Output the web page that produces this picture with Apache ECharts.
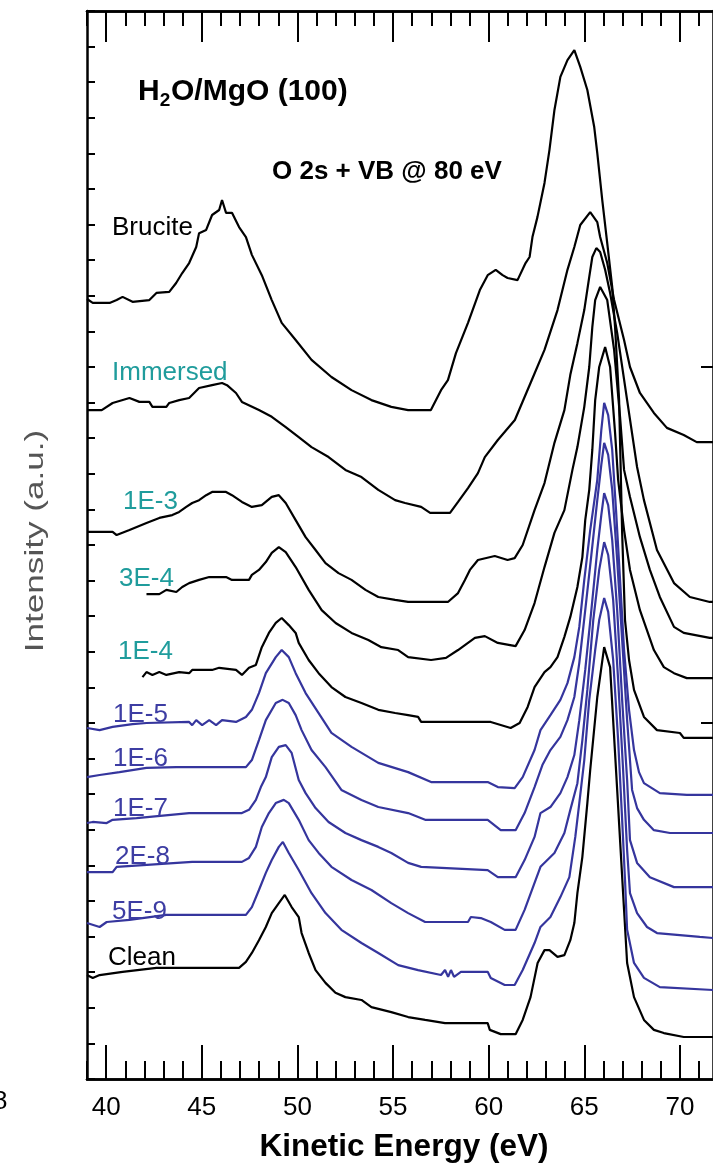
<!DOCTYPE html>
<html>
<head>
<meta charset="utf-8">
<script src="https://cdn.jsdelivr.net/npm/echarts@6/dist/echarts.min.js"></script>
<style>
  html, body { margin: 0; padding: 0; background: #ffffff; }
  #chart { width: 713px; height: 1167px; }
</style>
</head>
<body>
<div id="chart"></div>
<script>
// Kinetic energy ticks (eV)
const majorTicks = [40, 45, 50, 55, 60, 65, 70];
const minorTicks = [39, 40, 41, 42, 43, 44, 45, 46, 47, 48, 49, 50, 51, 52, 53, 54, 55,
  56, 57, 58, 59, 60, 61, 62, 63, 64, 65, 66, 67, 68, 69, 70, 71];
const rightTicks = [10, 20];

// O 2s + valence band spectra, [kinetic energy (eV), offset intensity (a.u.)]
const brucite = [[39.0,21.91],[39.30,21.80],[40.18,21.80],[40.55,21.88],[40.86,21.97],[41.38,21.83],[42.26,21.88],[42.63,22.08],[43.30,22.11],[43.66,22.36],[43.98,22.64],[44.34,22.92],[44.71,23.37],[44.86,23.76],[45.23,23.85],[45.54,24.27],[45.91,24.41],[46.06,24.69],[46.27,24.33],[46.58,24.33],[46.95,23.93],[47.31,23.65],[47.62,23.15],[48.14,22.58],[48.66,21.88],[49.18,21.24],[49.91,20.76],[50.74,20.20],[51.78,19.72],[52.83,19.35],[53.87,19.07],[54.91,18.88],[55.79,18.79],[56.98,18.79],[57.51,19.35],[57.87,19.63],[58.29,20.39],[58.92,21.24],[59.54,22.16],[59.95,22.58],[60.37,22.73],[60.73,22.58],[60.99,22.50],[61.51,22.44],[61.93,22.92],[62.14,23.09],[62.29,23.65],[62.55,24.21],[62.92,25.17],[63.18,26.10],[63.44,27.22],[63.75,28.15],[64.12,28.62],[64.48,28.90],[64.79,28.43],[65.16,27.78],[65.52,26.74],[65.68,26.01],[65.94,24.69],[66.20,23.48],[66.46,22.25],[66.61,21.12],[66.82,19.07],[66.98,15.34],[67.13,12.89],[67.34,11.77],[67.60,10.93],[68.12,10.17],[68.80,9.80],[70.00,9.72],[70.20,9.58],[71.73,9.58]];

const immersed = [[39.0,18.79],[39.77,18.79],[40.34,18.99],[41.22,19.13],[41.74,19.02],[42.26,19.02],[42.42,18.88],[43.15,18.88],[43.30,18.99],[43.82,19.07],[44.34,19.13],[44.86,19.41],[45.54,19.49],[46.06,19.55],[46.32,19.49],[46.79,19.27],[47.10,19.02],[47.99,18.79],[48.66,18.60],[49.39,18.31],[50.07,18.03],[50.74,17.75],[51.63,17.47],[52.51,17.11],[53.35,16.91],[54.23,16.55],[55.11,16.26],[55.63,16.18],[56.47,16.07],[56.94,15.90],[57.98,15.90],[58.40,16.21],[58.92,16.60],[59.44,17.02],[59.80,17.47],[60.48,17.95],[61.37,18.51],[62.19,19.55],[62.92,20.48],[63.60,21.60],[64.12,22.73],[64.48,23.37],[64.79,23.99],[65.31,24.35],[65.68,24.07],[65.83,23.65],[66.20,22.92],[66.56,21.88],[67.08,20.76],[67.39,20.00],[67.91,19.27],[68.64,18.71],[69.32,18.29],[70.20,18.09],[70.88,17.89],[71.73,17.89]];

const exp1e3 = [[39.0,15.37],[40.34,15.37],[40.55,15.28],[41.22,15.42],[42.11,15.62],[42.78,15.76],[43.46,15.84],[43.82,15.93],[44.19,16.07],[44.50,16.18],[44.86,16.26],[45.23,16.40],[45.54,16.49],[46.27,16.49],[46.58,16.40],[47.10,16.21],[47.62,16.07],[48.14,16.12],[48.66,16.35],[49.03,16.40],[49.39,16.18],[49.91,15.70],[50.43,15.22],[50.95,14.86],[51.47,14.49],[52.15,14.21],[52.83,14.02],[53.56,13.74],[54.23,13.54],[55.11,13.46],[55.79,13.40],[57.87,13.40],[58.40,13.65],[58.76,14.02],[59.02,14.30],[59.44,14.58],[60.32,14.69],[60.99,14.58],[61.36,14.63],[61.78,15.00],[62.40,15.98],[62.92,16.74],[63.44,17.87],[63.96,18.79],[64.27,19.78],[64.64,20.67],[65.00,21.60],[65.26,22.53],[65.42,23.09],[65.63,23.34],[65.83,23.23],[66.09,22.73],[66.35,22.08],[66.72,20.96],[67.24,19.07],[67.76,17.19],[68.12,16.26],[68.80,14.86],[69.69,13.93],[70.52,13.54],[71.56,13.40],[71.73,13.40]];

const exp3e4 = [[42.11,13.62],[42.78,13.62],[43.15,13.74],[43.67,13.68],[43.98,13.82],[44.34,13.93],[44.86,14.02],[45.39,14.10],[46.27,14.10],[46.58,14.02],[47.47,14.02],[47.62,14.16],[47.99,14.30],[48.35,14.52],[48.66,14.78],[49.03,14.94],[49.39,14.80],[49.91,14.38],[50.59,13.74],[51.27,13.17],[52.00,12.81],[52.83,12.53],[53.71,12.33],[54.39,12.13],[55.27,12.05],[55.79,11.85],[56.99,11.77],[57.77,11.83],[58.40,12.05],[59.28,12.39],[59.80,12.44],[60.48,12.25],[61.41,12.16],[61.88,12.61],[62.40,13.37],[62.92,14.38],[63.44,15.34],[63.96,15.98],[64.38,17.11],[64.64,17.75],[65.00,18.88],[65.26,20.00],[65.42,21.12],[65.57,21.88],[65.83,22.25],[66.20,21.88],[66.56,20.48],[66.87,18.60],[67.08,17.11],[67.39,16.35],[67.91,15.22],[68.43,14.30],[68.95,13.54],[69.69,12.70],[70.20,12.53],[71.56,12.39],[71.73,12.39]];

const exp1e4 = [[41.90,11.29],[42.11,11.43],[42.42,11.35],[42.78,11.43],[43.15,11.35],[43.82,11.43],[44.34,11.40],[44.50,11.49],[45.54,11.49],[45.91,11.55],[46.79,11.49],[47.10,11.35],[47.47,11.55],[47.83,11.63],[48.14,12.13],[48.51,12.53],[48.87,12.81],[49.18,12.95],[49.55,12.75],[49.91,12.53],[50.07,12.25],[50.59,11.77],[51.11,11.40],[51.78,11.01],[52.51,10.73],[53.35,10.56],[54.23,10.37],[55.11,10.28],[55.79,10.22],[56.31,10.17],[56.47,10.03],[60.11,10.03],[61.15,9.86],[61.62,10.00],[62.04,10.45],[62.40,11.01],[62.92,11.43],[63.23,11.57],[63.60,11.85],[63.96,12.42],[64.27,12.98],[64.64,13.82],[64.90,14.66],[65.05,15.70],[65.26,16.55],[65.42,17.67],[65.57,19.07],[65.78,20.00],[66.09,20.56],[66.35,20.00],[66.61,18.15],[66.77,16.83],[67.08,15.42],[67.39,14.30],[67.91,13.17],[68.64,12.05],[69.16,11.57],[69.69,11.40],[70.36,11.26],[71.73,11.26]];

const exp1e5 = [[39.0,9.86],[39.66,9.80],[40.34,9.89],[41.38,9.97],[42.11,10.00],[44.34,10.03],[44.50,9.94],[44.71,10.08],[45.02,9.94],[45.39,10.08],[45.75,9.94],[46.06,10.08],[46.79,10.03],[47.31,10.17],[47.62,10.37],[47.99,10.84],[48.35,11.40],[48.87,11.85],[49.18,12.05],[49.55,11.85],[49.91,11.40],[50.43,10.84],[51.11,10.28],[51.78,9.72],[52.83,9.33],[54.23,8.88],[55.79,8.62],[56.99,8.34],[59.95,8.34],[60.48,8.20],[61.36,8.17],[61.78,8.48],[62.40,9.24],[62.71,9.80],[63.23,10.22],[63.75,10.65],[64.12,11.12],[64.48,11.85],[64.74,12.70],[65.00,14.02],[65.31,15.42],[65.68,16.83],[65.89,18.23],[66.04,18.99],[66.25,18.65],[66.46,17.67],[66.66,15.98],[66.87,14.02],[67.08,12.05],[67.34,10.37],[67.60,9.24],[67.86,8.62],[68.12,8.31],[68.95,8.03],[70.36,7.98],[71.73,7.98]];

const exp1e6 = [[39.0,8.48],[39.66,8.54],[40.70,8.62],[42.11,8.74],[43.67,8.76],[47.31,8.76],[47.62,8.96],[47.99,9.52],[48.35,10.08],[48.87,10.56],[49.23,10.65],[49.55,10.56],[49.91,10.22],[50.22,9.80],[50.74,9.24],[51.47,8.76],[52.30,8.12],[53.35,7.84],[54.23,7.64],[55.79,7.47],[56.68,7.28],[59.95,7.28],[60.63,6.99],[61.41,6.99],[61.88,7.47],[62.40,8.20],[62.81,8.82],[63.23,9.24],[63.75,9.61],[64.12,10.08],[64.48,10.73],[64.74,11.69],[65.05,13.17],[65.37,14.72],[65.68,16.26],[65.89,17.25],[66.04,17.87],[66.25,17.53],[66.46,16.55],[66.72,14.58],[66.98,12.33],[67.24,10.08],[67.50,8.12],[67.76,7.61],[68.12,7.28],[68.64,6.99],[69.48,6.91],[71.73,6.91]];

const exp1e7 = [[39.0,7.19],[39.30,7.22],[40.03,7.19],[40.34,7.28],[41.59,7.33],[44.34,7.47],[47.10,7.47],[47.47,7.56],[47.83,7.84],[48.09,8.20],[48.35,8.48],[48.66,9.04],[49.03,9.33],[49.39,9.38],[49.70,9.16],[50.07,8.40],[50.43,8.03],[50.95,7.61],[51.63,7.22],[52.51,6.91],[53.35,6.71],[54.23,6.52],[54.91,6.35],[55.79,6.07],[56.47,5.96],[59.95,5.87],[60.48,5.67],[61.41,5.67],[61.88,6.15],[62.40,6.80],[62.71,7.47],[63.23,7.64],[63.75,8.03],[64.12,8.48],[64.48,9.10],[64.74,10.08],[65.05,11.49],[65.37,13.17],[65.68,14.86],[65.89,15.84],[66.04,16.46],[66.25,16.12],[66.46,15.14],[66.72,13.17],[66.98,10.65],[67.24,8.40],[67.39,6.71],[67.76,6.07],[68.43,5.67],[69.69,5.39],[71.73,5.39]];

const exp2e8 = [[39.0,5.81],[40.34,5.81],[40.55,5.96],[44.50,6.10],[47.10,6.10],[47.47,6.21],[47.83,6.52],[48.14,7.08],[48.51,7.47],[48.87,7.75],[49.29,7.84],[49.55,7.75],[50.07,7.28],[50.59,6.71],[51.11,6.35],[51.78,5.96],[52.83,5.59],[53.87,5.31],[54.91,4.94],[55.79,4.66],[56.68,4.41],[58.92,4.41],[59.07,4.55],[59.59,4.52],[60.11,4.41],[60.84,4.19],[61.41,4.19],[61.88,4.75],[62.40,5.51],[62.71,5.96],[63.44,6.35],[63.96,6.91],[64.27,7.56],[64.64,8.31],[64.90,9.52],[65.16,10.93],[65.47,12.89],[65.78,14.30],[66.04,15.08],[66.25,14.72],[66.51,13.46],[66.77,11.21],[67.03,8.68],[67.24,6.43],[67.39,5.22],[67.76,4.66],[68.28,4.27],[68.80,4.10],[71.04,3.99],[71.73,3.96]];

const exp5e9 = [[39.0,4.38],[39.66,4.27],[40.03,4.41],[41.22,4.47],[43.15,4.61],[47.31,4.61],[47.62,4.83],[47.99,5.31],[48.35,5.79],[48.66,6.15],[49.03,6.52],[49.24,6.66],[49.55,6.35],[50.07,5.87],[50.74,5.22],[51.47,4.66],[52.30,4.19],[53.35,3.82],[54.23,3.54],[55.27,3.20],[56.31,3.06],[57.51,2.92],[57.72,3.06],[57.88,2.87],[58.03,3.06],[58.19,2.87],[58.55,3.01],[59.95,3.01],[60.11,2.84],[60.84,2.64],[61.36,2.64],[61.78,3.06],[62.40,3.82],[62.71,4.27],[63.23,4.55],[63.75,5.11],[64.22,5.67],[64.53,6.80],[64.74,7.75],[65.00,8.96],[65.26,10.65],[65.57,12.05],[65.78,12.89],[66.04,13.51],[66.25,13.12],[66.51,11.77],[66.77,9.52],[66.98,7.28],[67.13,5.59],[67.24,4.19],[67.60,3.26],[68.12,2.84],[68.95,2.58],[71.73,2.50]];

const clean = [[39.0,2.92],[39.30,2.84],[39.66,2.92],[40.86,3.01],[42.63,3.12],[46.95,3.12],[47.31,3.29],[47.62,3.54],[47.99,3.90],[48.35,4.27],[48.66,4.66],[49.03,4.94],[49.34,5.17],[49.70,4.83],[50.07,4.55],[50.22,4.10],[50.59,3.54],[50.95,3.06],[51.47,2.70],[51.99,2.42],[52.51,2.30],[53.35,2.22],[53.87,2.02],[54.91,1.88],[55.79,1.74],[56.68,1.66],[57.72,1.57],[59.95,1.57],[60.06,1.38],[60.63,1.26],[61.41,1.26],[61.78,1.66],[62.19,2.30],[62.56,3.26],[62.92,3.62],[63.18,3.62],[63.60,3.43],[63.96,3.48],[64.27,3.90],[64.48,4.38],[64.64,5.22],[64.90,6.24],[65.16,7.75],[65.31,8.68],[65.68,10.73],[66.04,12.13],[66.35,11.57],[66.72,8.12],[67.08,4.75],[67.24,3.26],[67.60,2.30],[68.12,1.66],[68.64,1.38],[69.16,1.29],[70.20,1.18],[71.73,1.18]];

const BLACK = '#000000';
const BLUE = '#35359d';
const TEAL = '#1f9c9c';
const LABEL_BLUE = '#3d3da3';
const FONT = '"Liberation Sans", Arial, Helvetica, sans-serif';

// exposure series, drawn black first and blue on top
const spectra = [
  { name: 'Brucite', data: brucite, color: BLACK },
  { name: 'Immersed', data: immersed, color: BLACK },
  { name: '1E-3', data: exp1e3, color: BLACK },
  { name: '3E-4', data: exp3e4, color: BLACK },
  { name: '1E-4', data: exp1e4, color: BLACK },
  { name: 'Clean', data: clean, color: BLACK },
  { name: '5E-9', data: exp5e9, color: BLUE },
  { name: '2E-8', data: exp2e8, color: BLUE },
  { name: '1E-7', data: exp1e7, color: BLUE },
  { name: '1E-6', data: exp1e6, color: BLUE },
  { name: '1E-5', data: exp1e5, color: BLUE }
];

// curve captions: text, colour, left x, middle y (px)
const captions = [
  ['Brucite', BLACK, 112, 228],
  ['Immersed', TEAL, 112, 373],
  ['1E-3', TEAL, 123, 502],
  ['3E-4', TEAL, 119, 579],
  ['1E-4', TEAL, 118, 652],
  ['1E-5', LABEL_BLUE, 113, 715],
  ['1E-6', LABEL_BLUE, 113, 759],
  ['1E-7', LABEL_BLUE, 113, 809],
  ['2E-8', LABEL_BLUE, 115, 857],
  ['5E-9', LABEL_BLUE, 112, 912],
  ['Clean', BLACK, 108, 958]
];

const X_MIN = 39;
const X_MAX = 71.73;

function energyAxis(position, ticks, len, withLabels) {
  return {
    type: 'value', position: position, min: X_MIN, max: X_MAX,
    axisLine: { show: true, onZero: false, lineStyle: { color: BLACK, width: 2.5 } },
    axisTick: { show: true, inside: true, length: len, customValues: ticks,
      lineStyle: { color: BLACK, width: 2 } },
    axisLabel: withLabels
      ? { show: true, customValues: majorTicks, fontSize: 26, color: BLACK,
          fontFamily: FONT, margin: 16 }
      : { show: false },
    splitLine: { show: false }
  };
}

const chart = echarts.init(document.getElementById('chart'), null, { renderer: 'canvas' });

const graphics = captions.map(function (c) {
  return {
    type: 'text', x: c[2], y: c[3], z: 100,
    style: { text: c[0], fill: c[1], font: 'normal 26px ' + FONT,
      align: 'left', verticalAlign: 'middle' }
  };
});
graphics.push(
  { type: 'text', x: 138, y: 92, z: 100,
    style: { text: 'H', fill: BLACK, font: 'bold 30px ' + FONT, align: 'left', verticalAlign: 'middle' } },
  { type: 'text', x: 159.7, y: 101, z: 100,
    style: { text: '2', fill: BLACK, font: 'bold 19px ' + FONT, align: 'left', verticalAlign: 'middle' } },
  { type: 'text', x: 171, y: 92, z: 100,
    style: { text: 'O/MgO (100)', fill: BLACK, font: 'bold 30px ' + FONT, align: 'left', verticalAlign: 'middle' } },
  { type: 'text', x: 272, y: 172, z: 100,
    style: { text: 'O 2s + VB @ 80 eV', fill: BLACK, font: 'bold 26px ' + FONT, align: 'left', verticalAlign: 'middle' } },
  { type: 'text', x: 404, y: 1147, z: 100,
    style: { text: 'Kinetic Energy (eV)', fill: BLACK, font: 'bold 31.5px ' + FONT, align: 'center', verticalAlign: 'middle' } },
  { type: 'text', x: -7, y: 1102, z: 100,
    style: { text: '8', fill: BLACK, font: 'normal 26px ' + FONT, align: 'left', verticalAlign: 'middle' } },
  { type: 'text', x: 36, y: 541, rotation: Math.PI / 2, scaleX: 1.35, z: 100,
    style: { text: 'Intensity (a.u.)', fill: '#555555', font: 'normal 26px ' + FONT, align: 'center', verticalAlign: 'middle' } }
);

chart.setOption({
  animation: false,
  backgroundColor: '#ffffff',
  grid: { left: 87, top: 11, width: 629, height: 1068, containLabel: false },
  xAxis: [
    energyAxis('bottom', majorTicks, 34, true),
    energyAxis('bottom', minorTicks, 18, false),
    energyAxis('top', majorTicks, 31, false),
    energyAxis('top', minorTicks, 15, false)
  ],
  yAxis: [
    { type: 'value', position: 'left', min: 0, max: 30, interval: 1,
      axisLine: { show: true, onZero: false, lineStyle: { color: BLACK, width: 2.5 } },
      axisTick: { show: true, inside: true, length: 8, lineStyle: { color: BLACK, width: 2 } },
      axisLabel: { show: false }, splitLine: { show: false } },
    { type: 'value', position: 'right', min: 0, max: 30,
      axisLine: { show: true, onZero: false, lineStyle: { color: BLACK, width: 2.5 } },
      axisTick: { show: true, inside: true, length: 12, customValues: rightTicks,
        lineStyle: { color: BLACK, width: 2 } },
      axisLabel: { show: false }, splitLine: { show: false } }
  ],
  series: spectra.map(function (s, i) {
    return {
      name: s.name, type: 'line', data: s.data, xAxisIndex: 0, yAxisIndex: 0,
      showSymbol: false, symbol: 'none', smooth: false, z: 2 + i,
      lineStyle: { color: s.color, width: 2.2 }, itemStyle: { color: s.color },
      emphasis: { disabled: true }
    };
  }),
  graphic: graphics
});
</script>
</body>
</html>
